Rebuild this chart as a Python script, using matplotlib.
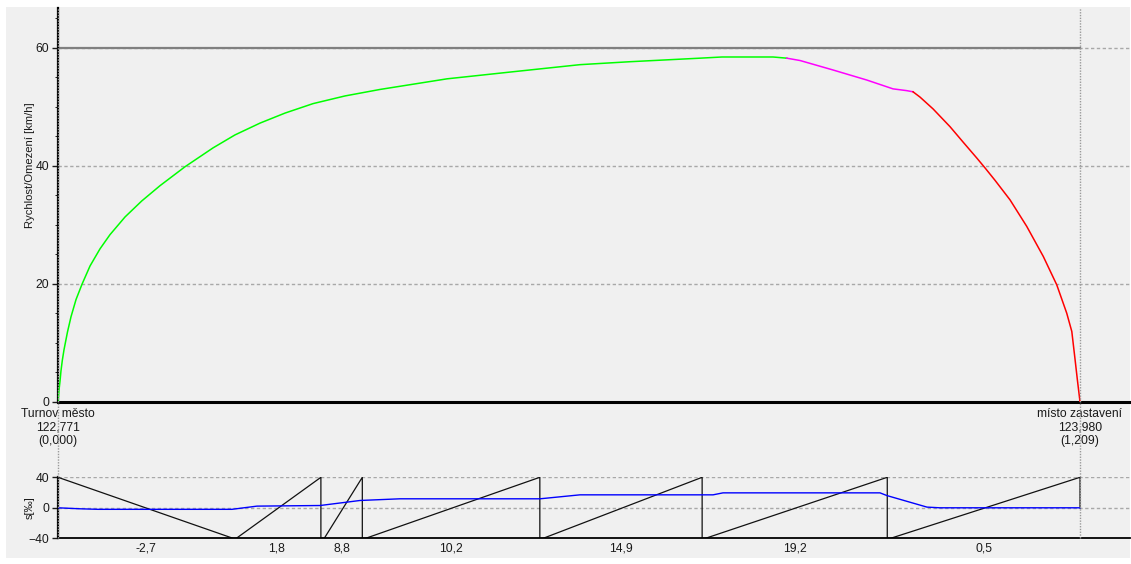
import matplotlib
matplotlib.use("Agg")
import matplotlib.pyplot as plt
import matplotlib.patches as patches
import matplotlib.transforms as mtransforms
from matplotlib.lines import Line2D

plt.rcParams['font.family'] = ['Liberation Sans', 'DejaVu Sans']

# Speed profile [km from start, km/h], split by driving regime
accel_km = [0.0, 0.0012, 0.0024, 0.0035, 0.0051, 0.0071, 0.0112, 0.0154, 0.0213,
            0.0284, 0.0379, 0.0497, 0.0615, 0.0793, 0.0990, 0.1207, 0.1502,
            0.1834, 0.2094, 0.2390, 0.2686, 0.3017, 0.3395, 0.3809, 0.4602,
            0.5383, 0.6175, 0.6767, 0.7595, 0.7855, 0.8459, 0.8621]
accel_kmh = [0.0, 2.0, 3.5, 5.2, 7.0, 8.8, 11.8, 14.4, 17.3,
             19.9, 23.0, 25.9, 28.3, 31.3, 34.0, 36.6, 39.8,
             43.0, 45.2, 47.2, 48.9, 50.5, 51.8, 52.9, 54.7,
             55.9, 57.1, 57.6, 58.2, 58.4, 58.4, 58.2]
coast_km = [0.8621, 0.8779, 0.9168, 0.9567, 0.9878, 1.0040, 1.0115]
coast_kmh = [58.2, 57.8, 56.2, 54.5, 53.0, 52.7, 52.5]
brake_km = [1.0115, 1.0198, 1.0352, 1.0552, 1.0706, 1.0868, 1.0967, 1.1085,
            1.1262, 1.1460, 1.1656, 1.1815, 1.1933, 1.1993, 1.2032, 1.2059, 1.209]
brake_kmh = [52.5, 51.6, 49.6, 46.6, 44.0, 41.3, 39.6, 37.5,
             34.2, 29.7, 24.6, 19.8, 15.0, 11.9, 7.1, 3.7, 0.0]

# Line speed limit
limit_km = [0.0, 1.209]
limit_kmh = [60, 60]

# Gradient sections: boundaries [km] and gradient [permille]
grad_bounds = [0.0, 0.207, 0.311, 0.360, 0.570, 0.762, 0.981, 1.209]
grad_vals = [-2.7, 1.8, 8.8, 10.2, 14.9, 19.2, 0.5]

# Smoothed gradient line
smooth_km = [0.0, 0.0260, 0.0473, 0.2058, 0.2354, 0.3100, 0.3573, 0.4046, 0.5702,
             0.6175, 0.7749, 0.7867, 0.9724, 0.9807, 1.0280, 1.0434, 1.209]
smooth_val = [0.0, -1.3, -2.0, -2.0, 2.2, 3.0, 9.6, 11.8, 11.8,
              17.0, 17.0, 19.6, 19.6, 16.0, 0.9, 0.0, 0.0]

# Stations
stations = ["Turnov město", "místo zastavení"]
station_chain = [122.771, 123.980]
station_km = [0.0, 1.209]


def cz(v, d):
    return f"{v:.{d}f}".replace('.', ',')


W, H = 1131, 564
fig = plt.figure(figsize=(W / 100, H / 100), dpi=100, facecolor='white')
fig.patches.append(patches.Rectangle((6 / W, 6 / H), 1124 / W, 551 / H,
                                     transform=fig.transFigure, facecolor='#f0f0f0',
                                     edgecolor='none', zorder=-10))

left = 58 / W
width = 1072 / W
ax = fig.add_axes([left, (H - 401.7) / H, width, 393.7 / H])
ax2 = fig.add_axes([left, (H - 538.3) / H, width, 61 / H])

x_max = 1.209 + 50 / 845.3
tick_color = '#1a1a1a'
fs = 8.7
grid_kw = dict(color='#a8a8a8', lw=1.0, ls=(0, (2.4, 1.8)))

for a in (ax, ax2):
    a.set_facecolor('none')
    a.set_xlim(0, x_max)
    a.spines['top'].set_visible(False)
    a.spines['right'].set_visible(False)
    a.spines['left'].set_linewidth(1.6)
    a.tick_params(axis='y', labelsize=fs, colors=tick_color, length=4, width=1, pad=2.5)

# Speed chart
ax.set_ylim(0, 66.7)
ax.set_yticks([0, 20, 40, 60])
ax.set_yticks(range(5, 66, 5), minor=True)
ax.tick_params(axis='y', which='minor', length=2)
ax.set_xticks([])
ax.spines['bottom'].set_linewidth(2.2)
for yv in (20, 40, 60):
    ax.axhline(yv, zorder=1, **grid_kw)
ax.plot(limit_km, limit_kmh, color='#808080', lw=1.6, zorder=2)
ax.plot(accel_km, accel_kmh, color='#00ff00', lw=1.1, zorder=3)
ax.plot(coast_km, coast_kmh, color='#ff00ff', lw=1.1, zorder=3)
ax.plot(brake_km, brake_kmh, color='#ff0000', lw=1.1, zorder=3)
ax.set_ylabel("Rychlost/Omezení [km/h]", fontsize=8.1, color=tick_color)
ax.yaxis.set_label_coords(-23 / 1072, 0.60)

# Gradient chart
ax2.set_ylim(-40, 40)
ax2.set_yticks([-40, 0, 40])
ax2.spines['bottom'].set_linewidth(1.3)
for yv in (0, 40):
    ax2.axhline(yv, zorder=1, **grid_kw)
inset = 0.004
px, py = [grad_bounds[0]], [40 if grad_vals[0] < 0 else -40]
for i, g in enumerate(grad_vals):
    x0, x1 = grad_bounds[i], grad_bounds[i + 1]
    if g >= 0:
        if py[-1] != -40:
            px.append(x0)
            py.append(-40)
        px += [x0 + inset, x1]
        py += [-40, 40]
    else:
        if py[-1] != 40:
            px.append(x0)
            py.append(40)
        px.append(x1)
        py.append(-40)
px.append(grad_bounds[-1])
py.append(0)
ax2.plot(px, py, color='#111111', lw=0.9, zorder=2)
ax2.plot(smooth_km, smooth_val, color='#0000ff', lw=1.0, zorder=3)
mids = [(grad_bounds[i] + grad_bounds[i + 1]) / 2 for i in range(len(grad_vals))]
ax2.set_xticks(mids)
ax2.set_xticklabels([cz(g, 1) for g in grad_vals])
ax2.tick_params(axis='x', length=0, pad=3, labelsize=fs, colors=tick_color)
ax2.set_ylabel("s[‰]", fontsize=8, color=tick_color)
ax2.yaxis.set_label_coords(-23 / 1072, 0.5)

# Station markers spanning both charts
for name, ch, km in zip(stations, station_chain, station_km):
    trans = mtransforms.blended_transform_factory(ax.transData, fig.transFigure)
    fig.lines.append(Line2D([km, km], [(H - 538.3) / H, (H - 8) / H], transform=trans,
                            color='#9a9a9a', lw=1.0, ls=(0, (1, 1)), zorder=0))
    ax.text(km, -1.1, f"{name}\n{cz(ch, 3)}\n({cz(km, 3)})", ha='center', va='top',
            fontsize=fs, color=tick_color, linespacing=1.15, clip_on=False)

fig.savefig("out.png", dpi=100, facecolor=fig.get_facecolor())
